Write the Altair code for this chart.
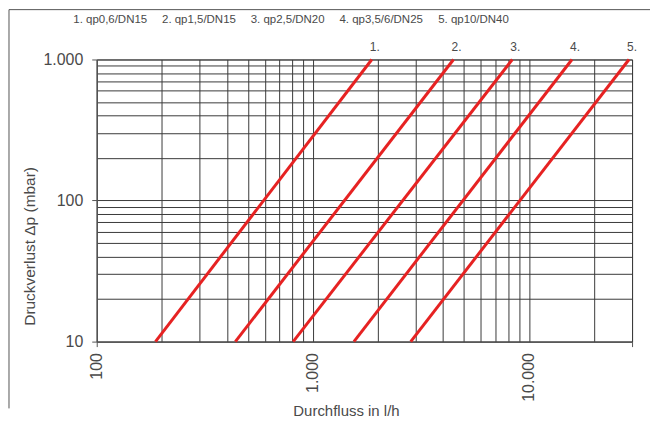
import altair as alt
import pandas as pd

# ---- data ----
series = ["1. qp0,6/DN15", "2. qp1,5/DN15", "3. qp2,5/DN20", "4. qp3,5/6/DN25", "5. qp10/DN40"]
markers = ["1.", "2.", "3.", "4.", "5."]
flow_at_10mbar = [187, 438, 811, 1549, 2838]        # l/h where each curve meets 10 mbar
flow_at_1000mbar = [1875, 4477, 8375, 15820, 29040]  # l/h where each curve meets 1000 mbar
dp_bottom = 10
dp_top = 1000

x_grid = [100, 200, 300, 400, 500, 600, 700, 800, 900,
          1000, 2000, 3000, 4000, 5000, 6000, 7000, 8000, 9000,
          10000, 20000, 30000]
y_grid = [10, 20, 30, 40, 50, 60, 70, 80, 90,
          100, 200, 300, 400, 500, 600, 700, 800, 900, 1000]
x_labels = [100, 1000, 10000]
y_labels = [10, 100, 1000]

rows = []
for s, q0, q1 in zip(series, flow_at_10mbar, flow_at_1000mbar):
    rows.append({"series": s, "Q": q0, "dp": dp_bottom})
    rows.append({"series": s, "Q": q1, "dp": dp_top})
lines_df = pd.DataFrame(rows)
tops_df = pd.DataFrame({"series": series, "marker": markers,
                        "Q": flow_at_1000mbar, "dp": [dp_top] * len(series)})

FONT = "Liberation Sans"
TXT = "#4a4a4a"
GRID = "#3a3a3a"
EDGE = "#555555"
RED = "#e62222"

de_fmt = "replace(format(datum.value, ','), ',', '.')"
x_test = " || ".join(f"datum.value == {v}" for v in x_labels)
y_test = " || ".join(f"datum.value == {v}" for v in y_labels)

x_scale = alt.Scale(type="log", domain=[100, 30000], nice=False)
y_scale = alt.Scale(type="log", domain=[10, 1000], nice=False)

x_axis = alt.Axis(
    values=x_grid, title="Durchfluss in l/h",
    labelExpr=f"({x_test}) ? {de_fmt} : ''",
    labelAngle=270, labelFontSize=16, labelColor=TXT, labelFont=FONT,
    labelPadding=6, labelFlush=False, labelOverlap=False,
    tickSize=5, tickColor=EDGE,
    tickOpacity={"condition": {"test": "datum.value == 100 || datum.value == 30000", "value": 1}, "value": 0},
    grid=True, gridColor=GRID, gridWidth=1, domainColor=EDGE,
    titleFont=FONT, titleFontSize=15, titleFontWeight="normal", titleColor=TXT,
    titleX=250, titleY=69, titleBaseline="middle",
)
y_axis = alt.Axis(
    values=y_grid, title="Druckverlust Δp (mbar)",
    labelExpr=f"({y_test}) ? {de_fmt} : ''",
    labelFontSize=16, labelColor=TXT, labelFont=FONT, labelPadding=9,
    labelOverlap=False, labelFlush=False,
    tickSize=5, tickColor=EDGE,
    tickOpacity={"condition": {"test": y_test, "value": 1}, "value": 0},
    grid=True, gridColor=GRID, gridWidth=1, domainColor=EDGE,
    titleFont=FONT, titleFontSize=15.5, titleFontWeight="normal", titleColor=TXT,
    titleX=-67, titleY=187, titleAngle=270, titleBaseline="middle", titleAlign="center",
)

lines = alt.Chart(lines_df).mark_line(strokeWidth=3).encode(
    x=alt.X("Q:Q", scale=x_scale, axis=x_axis),
    y=alt.Y("dp:Q", scale=y_scale, axis=y_axis),
    color=alt.Color("series:N", scale=alt.Scale(domain=series, range=[RED] * len(series)),
                    legend=alt.Legend(orient="none", legendX=-35, legendY=-46,
                                      direction="horizontal", title=None,
                                      symbolSize=0, symbolStrokeWidth=0, symbolOpacity=0,
                                      labelOffset=0, columnPadding=3, padding=0,
                                      labelFont=FONT, labelFontSize=11.5, labelColor=TXT)),
)

labels = alt.Chart(tops_df).mark_text(dy=-13, dx=3, fontSize=12, color=TXT, font=FONT).encode(
    x=alt.X("Q:Q", scale=x_scale),
    y=alt.Y("dp:Q", scale=y_scale),
    text="marker:N",
)

frame_df = pd.DataFrame({"k": [0]})
frame_top = alt.Chart(frame_df).mark_rule(color=EDGE, strokeWidth=1).encode(
    x=alt.value(-88), x2=alt.value(555), y=alt.value(-50))
frame_left = alt.Chart(frame_df).mark_rule(color=EDGE, strokeWidth=1).encode(
    x=alt.value(-88), y=alt.value(-50), y2=alt.value(350))

chart = alt.layer(frame_top, frame_left, lines, labels).properties(
    width=537, height=283, padding=0, background="white"
).configure_view(stroke=EDGE, strokeWidth=1)

chart.save("out.html", embed_options={"renderer": "svg", "actions": False})
